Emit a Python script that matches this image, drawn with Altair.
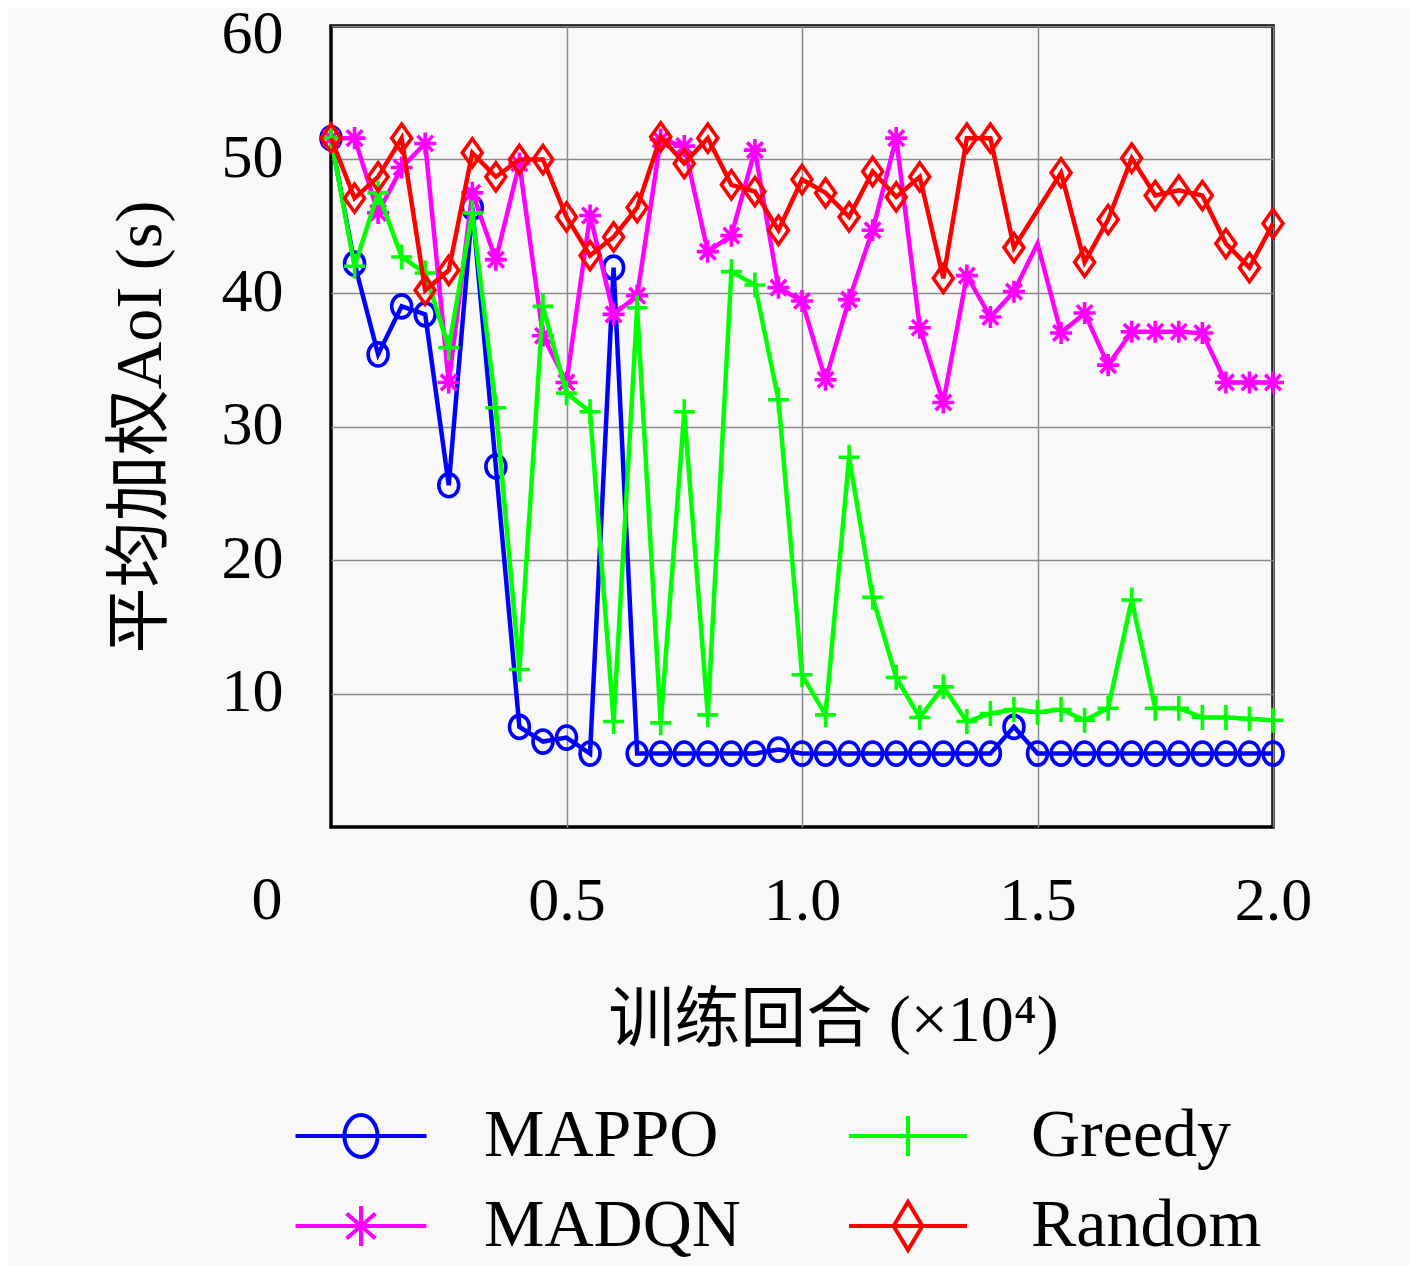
import altair as alt
import pandas as pd

# ---------------- data ----------------
episodes = [0.00, 0.05, 0.10, 0.15, 0.20, 0.25, 0.30, 0.35, 0.40, 0.45,
            0.50, 0.55, 0.60, 0.65, 0.70, 0.75, 0.80, 0.85, 0.90, 0.95,
            1.00, 1.05, 1.10, 1.15, 1.20, 1.25, 1.30, 1.35, 1.40, 1.45,
            1.50, 1.55, 1.60, 1.65, 1.70, 1.75, 1.80, 1.85, 1.90, 1.95, 2.00]

mappo = [51.6, 42.2, 35.4, 39.0, 38.4, 25.6, 46.4, 27.0, 7.5, 6.4,
         6.7, 5.5, 41.9, 5.5, 5.5, 5.5, 5.5, 5.5, 5.5, 5.8,
         5.5, 5.5, 5.5, 5.5, 5.5, 5.5, 5.5, 5.5, 5.5, 7.5,
         5.5, 5.5, 5.5, 5.5, 5.5, 5.5, 5.5, 5.5, 5.5, 5.5, 5.5]

madqn = [51.6, 51.6, 46.0, 49.4, 51.2, 33.3, 47.5, 42.5, 49.7, 36.8,
         33.3, 45.8, 38.4, 39.8, 51.5, 51.0, 43.1, 44.3, 50.7, 40.4,
         39.4, 33.5, 39.5, 44.7, 51.6, 37.4, 31.8, 41.3, 38.2, 40.1,
         43.7, 37.0, 38.5, 34.6, 37.1, 37.1, 37.1, 37.0, 33.3, 33.3, 33.3]

greedy = [51.6, 42.0, 47.5, 42.7, 41.5, 35.9, 46.0, 31.4, 11.8, 39.0,
          32.5, 31.1, 7.9, 38.9, 7.8, 31.1, 8.4, 41.6, 40.6, 32.0,
          11.4, 8.4, 27.7, 17.2, 11.2, 8.2, 10.5, 7.9, 8.5, 8.8,
          8.6, 8.8, 8.0, 8.9, 17.0, 8.9, 8.9, 8.2, 8.2, 8.1, 8.0]

random_ = [51.6, 47.1, 48.7, 51.6, 40.2, 41.7, 50.5, 48.7, 50.0, 50.0,
           45.7, 42.8, 44.2, 46.4, 51.7, 49.7, 51.6, 48.1, 47.6, 44.7,
           48.5, 47.5, 45.7, 49.1, 47.2, 48.7, 41.1, 51.6, 51.6, 43.4,
           46.2, 49.0, 42.3, 45.5, 50.1, 47.3, 47.7, 47.3, 43.7, 41.9, 45.2]

series_names = ["MAPPO", "MADQN", "Greedy", "Random"]
series_values = [mappo, madqn, greedy, random_]
# points drawn without a marker in the reference
no_marker = {"MADQN": [1.5], "Random": [1.5]}

x_ticks = [0.5, 1.0, 1.5, 2.0]
y_ticks = [10, 20, 30, 40, 50, 60]
x_title = "训练回合 (×10⁴)"
y_title = "平均加权AoI (s)"
legend_order = ["MAPPO", "MADQN", "Greedy", "Random"]

# ---------------- styles ----------------
colors = {"MAPPO": "#0000ff", "MADQN": "#ff00ff", "Greedy": "#00ff00", "Random": "#ff0000"}
marker_paths = {
    "MAPPO": "M0,-0.96A0.83,0.96 0 1,1 0,0.96A0.83,0.96 0 1,1 0,-0.96Z",
    "MADQN": "M-0.92,0L0.92,0M0,-0.92L0,0.92M-0.65,-0.65L0.65,0.65M-0.65,0.65L0.65,-0.65",
    "Greedy": "M-0.875,0L0.875,0M0,-1.04L0,1.04",
    "Random": "M0,-1.17L0.83,0L0,1.17L-0.83,0Z",
}
legend_paths = {
    "MAPPO": "M-2.73,0L2.73,0M0,-0.875A0.69,0.875 0 1,1 0,0.875A0.69,0.875 0 1,1 0,-0.875Z",
    "MADQN": "M-2.73,0L2.73,0M0,-0.83L0,0.83M-0.6,-0.52L0.6,0.52M-0.6,0.52L0.6,-0.52",
    "Greedy": "M-2.46,0L2.46,0M0,-0.83L0,0.83",
    "Random": "M-2.46,0L2.46,0M0,-1L0.6,0L0,1L-0.6,0Z",
}

FONT = "Liberation Serif, DejaVu Serif, Noto Sans CJK SC"

rows = []
for name, vals in zip(series_names, series_values):
    for xv, yv in zip(episodes, vals):
        rows.append({"x": xv, "y": yv, "series": name,
                     "mk": xv not in no_marker.get(name, [])})
df = pd.DataFrame(rows)

x_enc = alt.X(
    "x:Q",
    scale=alt.Scale(domain=[0, 2], nice=False, zero=False),
    axis=alt.Axis(
        values=x_ticks, format=".1f", labelFlush=False, labelOverlap=False,
        labelFontSize=62, labelFont=FONT, labelColor="black",
        labelPadding=73, labelBaseline="middle", ticks=False, tickSize=0,
        domain=False, grid=True, gridColor="#8a8a8a", gridWidth=1.5,
        title=x_title, titleFont=FONT, titleFontSize=66, titleFontWeight="normal",
        titleColor="black", titleX=502, titleY=193, titleBaseline="middle",
        titleAlign="center",
    ),
)
y_enc = alt.Y(
    "y:Q",
    scale=alt.Scale(domain=[0, 60], nice=False),
    axis=alt.Axis(
        values=y_ticks, labelFontSize=62, labelFont=FONT, labelColor="black",
        labelPadding=48, labelBaseline="middle", ticks=False, tickSize=0,
        labelFlush=False, labelOverlap=False,
        labelOffset={"condition": {"test": "datum.value === 60", "value": 7}, "value": -2},
        domain=False, grid=True, gridColor="#8a8a8a", gridWidth=1.5,
        title=y_title, titleFont=FONT, titleFontSize=66, titleFontWeight="normal",
        titleColor="black", titleX=-191, titleY=400.5, titleBaseline="middle",
        titleAlign="center", titleAngle=270,
    ),
)

base = alt.Chart(df)
layers = []
for name in series_names:
    sub = base.transform_filter(alt.datum.series == name)
    layers.append(
        sub.mark_line(color=colors[name], strokeWidth=4.5).encode(x=x_enc, y=y_enc)
    )
    layers.append(
        sub.transform_filter(alt.datum.mk)
        .mark_point(shape=marker_paths[name], color=colors[name], filled=False,
                    size=576, strokeWidth=3.6, opacity=1)
        .encode(x=x_enc, y=y_enc)
    )

legend = alt.Legend(
    title=None, orient="none", legendX=-4, legendY=1076, columns=2,
    symbolSize=2304, symbolStrokeWidth=4, symbolOpacity=1,
    labelFont=FONT, labelFontSize=68, labelColor="black", labelLimit=0,
    labelOffset=89, columnPadding=99, rowPadding=22, padding=0,
)
legend_layer = base.mark_point(size=0, filled=False, strokeWidth=3, opacity=1).encode(
    x=x_enc, y=y_enc,
    color=alt.Color("series:N",
                    scale=alt.Scale(domain=legend_order,
                                    range=[colors[n] for n in legend_order]),
                    legend=legend),
    shape=alt.Shape("series:N",
                    scale=alt.Scale(domain=legend_order,
                                    range=[legend_paths[n] for n in legend_order]),
                    legend=legend),
)
layers.append(legend_layer)

origin = alt.Chart(pd.DataFrame({"x": [0], "y": [0], "t": ["0"]})).mark_text(
    dx=-64, dy=73, fontSize=62, font=FONT, align="center", baseline="middle",
    color="black",
).encode(x="x:Q", y="y:Q", text="t:N")
layers.append(origin)

chart = alt.layer(*layers).properties(
    width=942, height=801,
    autosize=alt.AutoSizeParams(type="none"),
    padding={"left": 323, "top": 18, "right": 136, "bottom": 438},
    background="#f8f8f8",
).configure_view(stroke="black", strokeWidth=3.5)

chart.save("out.html", embed_options={"renderer": "svg", "actions": False})
